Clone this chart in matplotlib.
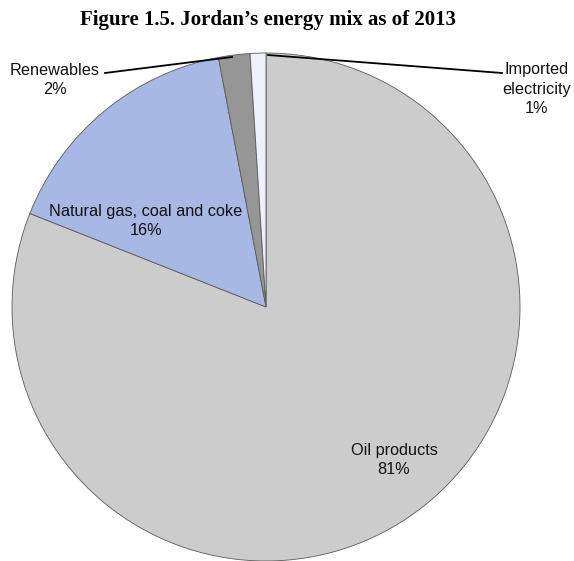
import matplotlib
matplotlib.use("Agg")
import matplotlib.pyplot as plt

# energy mix shares, % (clockwise from 12 o'clock)
sources = ["Oil products", "Natural gas, coal and coke", "Renewables", "Imported electricity"]
shares = [81, 16, 2, 1]
colors = ["#cccccc", "#a6b8e3", "#969696", "#eef1f9"]

W, H = 574, 561
fig = plt.figure(figsize=(W / 100, H / 100), dpi=100)
ax = fig.add_axes([0, 0, 1, 1])

# pixel-like coordinates, y measured upward
cx, cy, r = 266, H - 307, 254
ax.pie(shares, colors=colors, startangle=90, counterclock=False,
       center=(cx, cy), radius=r,
       wedgeprops=dict(edgecolor="#5a5a5a", linewidth=0.6))
ax.set_xlim(0, W)
ax.set_ylim(0, H)
ax.set_aspect("equal")
ax.axis("off")

lab = dict(family="Liberation Sans", fontsize=11.7, color="#111111",
           ha="center", va="center", linespacing=1.4)
ax.text(394, H - 460, f"Oil products\n{shares[0]}%", **lab)
ax.text(146, H - 221, f"Natural gas, coal and coke\n{shares[1]}%", **lab)
ax.text(55, H - 80, f"Renewables\n{shares[2]}%", **lab)
ax.text(537, H - 89, f"Imported\nelectricity\n{shares[3]}%", **lab)

# leader lines for the two thin slices
ax.plot([105, 232], [H - 73, H - 57], color="black", lw=1.3)
ax.plot([268, 502], [H - 55, H - 73], color="black", lw=1.3)

fig.text(268 / W, 1 - 20 / H, "Figure 1.5. Jordan\u2019s energy mix as of 2013",
         family="Liberation Serif", fontweight="bold", fontsize=15,
         ha="center", va="center")

fig.savefig("out.png", dpi=100)
